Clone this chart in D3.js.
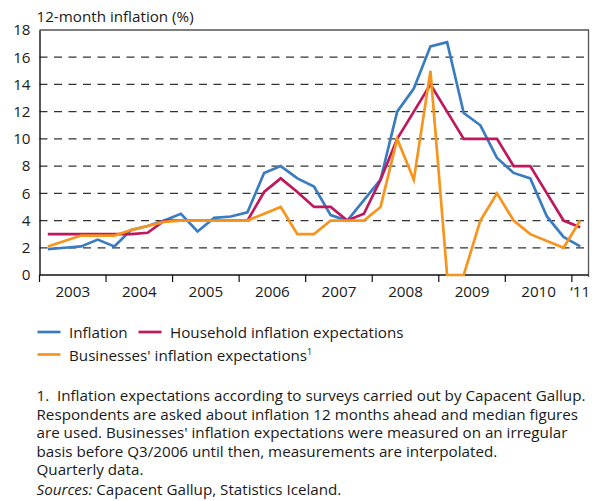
<!DOCTYPE html>
<html>
<head>
<meta charset="utf-8">
<script src="https://cdn.jsdelivr.net/npm/d3@7"></script>
<style>
  body { margin: 0; background: #fff; }
  svg text { font-family: "Open Sans", "Lato", sans-serif; fill: #1a1a1a; }
</style>
</head>
<body>
<script>
// quarterly data, 2003Q1 - 2011Q1
var quarters = ["2003Q1","2003Q2","2003Q3","2003Q4","2004Q1","2004Q2","2004Q3","2004Q4",
  "2005Q1","2005Q2","2005Q3","2005Q4","2006Q1","2006Q2","2006Q3","2006Q4",
  "2007Q1","2007Q2","2007Q3","2007Q4","2008Q1","2008Q2","2008Q3","2008Q4",
  "2009Q1","2009Q2","2009Q3","2009Q4","2010Q1","2010Q2","2010Q3","2010Q4","2011Q1"];
var inflation = [1.9,2.0,2.1,2.6,2.1,3.3,3.6,4.0,4.5,3.2,4.2,4.3,4.6,7.5,8.0,7.1,
  6.5,4.4,4.0,5.5,7.0,12.0,13.7,16.8,17.1,11.9,11.0,8.6,7.5,7.1,4.3,2.8,2.1];
var household = [3.0,3.0,3.0,3.0,3.0,3.0,3.1,4.0,4.0,4.0,4.0,4.0,4.0,6.1,7.1,6.1,
  5.0,5.0,4.0,4.5,7.0,10.0,12.0,14.0,12.0,10.0,10.0,10.0,8.0,8.0,6.0,4.0,3.5];
var businesses = [2.1,2.5,2.9,2.9,2.9,3.3,3.6,3.9,4.0,4.0,4.0,4.0,4.0,4.5,5.0,3.0,
  3.0,4.0,4.0,4.0,5.0,10.0,7.0,15.0,0.0,0.0,4.0,6.0,4.0,3.0,2.5,2.0,4.0];
var yearLabels = ["2003","2004","2005","2006","2007","2008","2009","2010","\u201811"];
var yTicks = [0,2,4,6,8,10,12,14,16,18];
var seriesNames = ["Inflation","Household inflation expectations","Businesses' inflation expectations"];
var seriesColors = ["#3a7cc2","#c0175d","#f7941d"];
var footnote = [
  "1.  Inflation expectations according to surveys carried out by Capacent Gallup.",
  "Respondents are asked about inflation 12 months ahead and median figures",
  "are used. Businesses' inflation expectations were measured on an irregular",
  "basis before Q3/2006 until then, measurements are interpolated.",
  "Quarterly data."
];

var W = 599, H = 501;
var plotL = 39.5, plotR = 588.5, plotT = 30, plotB = 275;
var fs = "15.2px";

var svg = d3.select("body").append("svg")
  .attr("width", W)
  .attr("height", H);

var x = d3.scaleBand().domain(quarters).range([plotL, plotR]).padding(0);
var y = d3.scaleLinear().domain([0, 18]).range([plotB, plotT]);
var cx = function(q) { return x(q) + x.bandwidth() / 2; };

// title
svg.append("text")
  .attr("x", 36.5).attr("y", 21.5)
  .style("font-size", fs)
  .text("12-month inflation (%)");

// dashed grid
svg.append("g")
  .selectAll("line")
  .data(yTicks.filter(function(d) { return d > 0 && d < 18; }))
  .enter().append("line")
  .attr("x1", plotL).attr("x2", plotR)
  .attr("y1", function(d) { return y(d); })
  .attr("y2", function(d) { return y(d); })
  .attr("stroke", "#333")
  .attr("stroke-width", 1.3)
  .attr("stroke-dasharray", "8,6.5");

// frame top / right
svg.append("path")
  .attr("d", "M" + plotL + "," + y(18) + "H" + plotR + "V" + (plotB + 2))
  .attr("fill", "none")
  .attr("stroke", "#555")
  .attr("stroke-width", 1.3);

// y axis
var yAxis = svg.append("g")
  .attr("transform", "translate(" + plotL + ",0)")
  .call(d3.axisLeft(y).tickValues(yTicks).tickSize(0).tickPadding(9));
yAxis.select(".domain").attr("stroke", "#111").attr("stroke-width", 1.4);
yAxis.selectAll("text").style("font-size", fs).attr("fill", "#1a1a1a")
  .style("font-family", "'Open Sans', Lato, sans-serif");

// x axis: ticks at year boundaries
var yearStarts = quarters.filter(function(q) { return q.slice(4) === "Q1"; });
var xAxis = svg.append("g")
  .attr("transform", "translate(0," + plotB + ")");
xAxis.append("line")
  .attr("x1", plotL).attr("x2", plotR)
  .attr("stroke", "#111").attr("stroke-width", 1.4);
xAxis.selectAll(".tick")
  .data(yearStarts)
  .enter().append("line")
  .attr("x1", function(q) { return x(q); })
  .attr("x2", function(q) { return x(q); })
  .attr("y1", 0).attr("y2", 7)
  .attr("stroke", "#111").attr("stroke-width", 1.2);
xAxis.selectAll(".lbl")
  .data(yearStarts)
  .enter().append("text")
  .attr("x", function(q, i) {
    var i0 = quarters.indexOf(q);
    var last = quarters[Math.min(i0 + 3, quarters.length - 1)];
    return (x(q) + x(last) + x.bandwidth()) / 2;
  })
  .attr("y", 22)
  .attr("text-anchor", "middle")
  .style("font-size", fs)
  .text(function(q, i) { return yearLabels[i]; });

// lines
var line = d3.line()
  .x(function(d, i) { return cx(quarters[i]); })
  .y(function(d) { return y(d); });

[inflation, household, businesses].forEach(function(s, k) {
  svg.append("path")
    .datum(s)
    .attr("d", line)
    .attr("fill", "none")
    .attr("stroke", seriesColors[k])
    .attr("stroke-width", 2.7)
    .attr("stroke-linejoin", "miter");
});

// legend
var legendItems = [
  {name: seriesNames[0], color: seriesColors[0], x: 37.5, y: 332},
  {name: seriesNames[1], color: seriesColors[1], x: 138.5, y: 332},
  {name: seriesNames[2], color: seriesColors[2], x: 37.5, y: 354.5, sup: "1"}
];
var lg = svg.append("g").selectAll("g")
  .data(legendItems)
  .enter().append("g")
  .attr("transform", function(d) { return "translate(" + d.x + "," + d.y + ")"; });
lg.append("line")
  .attr("x1", 0).attr("x2", 23)
  .attr("stroke", function(d) { return d.color; })
  .attr("stroke-width", 2.7);
var lt = lg.append("text")
  .attr("x", 31.5).attr("y", 6)
  .style("font-size", fs)
  .text(function(d) { return d.name; });
lt.filter(function(d) { return d.sup; })
  .append("tspan")
  .attr("dy", -6)
  .style("font-size", "9px")
  .text(function(d) { return d.sup; });

// footnote
svg.append("g").selectAll("text")
  .data(footnote)
  .enter().append("text")
  .attr("x", 36.5)
  .attr("y", function(d, i) { return 401 + i * 18.6; })
  .style("font-size", fs)
  .style("white-space", "pre")
  .text(function(d) { return d; });

var src = svg.append("text")
  .attr("x", 36.5).attr("y", 495)
  .style("font-size", fs);
src.append("tspan").style("font-style", "italic").text("Sources:");
src.append("tspan").text(" Capacent Gallup, Statistics Iceland.");
</script>
</body>
</html>
